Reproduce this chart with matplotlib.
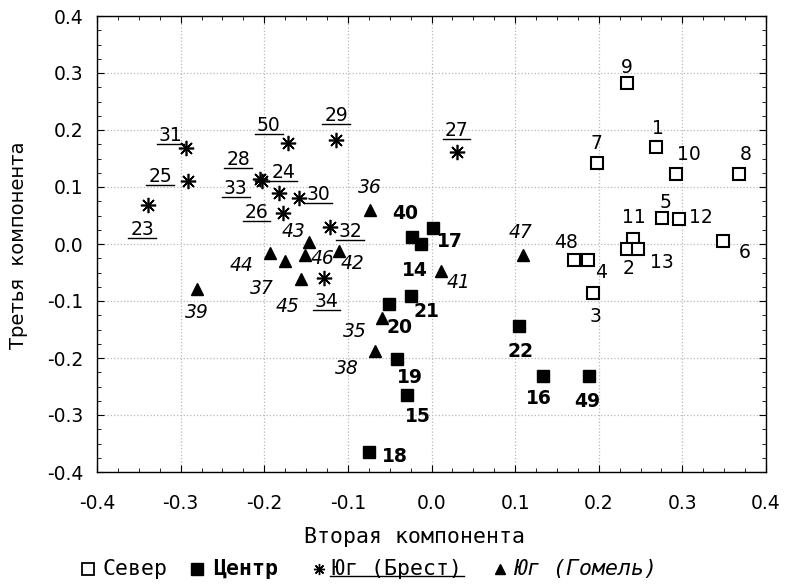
import matplotlib
matplotlib.use("Agg")
import matplotlib.pyplot as plt
from matplotlib.ticker import MultipleLocator, FormatStrFormatter
from matplotlib.lines import Line2D

plt.rcParams['axes.unicode_minus'] = False

# Север (open squares)
north_ids = [9, 1, 7, 10, 8, 5, 12, 11, 2, 13, 6, 48, 4, 3]
north_x = [0.234, 0.268, 0.198, 0.292, 0.368, 0.276, 0.296, 0.241, 0.234, 0.247, 0.349, 0.170, 0.187, 0.193]
north_y = [0.282, 0.170, 0.142, 0.123, 0.123, 0.046, 0.043, 0.009, -0.009, -0.009, 0.005, -0.028, -0.028, -0.086]

# Центр (filled squares)
center_ids = [40, 14, 17, 21, 20, 19, 15, 18, 22, 16, 49]
center_x = [-0.023, -0.013, 0.002, -0.024, -0.051, -0.041, -0.029, -0.075, 0.105, 0.133, 0.188]
center_y = [0.012, 0.000, 0.028, -0.091, -0.106, -0.202, -0.265, -0.365, -0.143, -0.231, -0.231]

# Юг (Брест) (asterisks)
brest_ids = [31, 25, 23, 28, 33, 24, 30, 26, 50, 29, 32, 34, 27]
brest_x = [-0.293, -0.291, -0.339, -0.205, -0.203, -0.182, -0.159, -0.177, -0.172, -0.114, -0.121, -0.128, 0.030]
brest_y = [0.168, 0.111, 0.068, 0.114, 0.110, 0.089, 0.081, 0.054, 0.177, 0.182, 0.030, -0.060, 0.161]

# Юг (Гомель) (triangles)
gomel_ids = [36, 43, 44, 37, 46, 42, 45, 41, 35, 38, 47, 39]
gomel_x = [-0.073, -0.146, -0.193, -0.175, -0.151, -0.111, -0.156, 0.011, -0.059, -0.068, 0.110, -0.281]
gomel_y = [0.060, 0.004, -0.016, -0.030, -0.019, -0.012, -0.061, -0.047, -0.130, -0.188, -0.019, -0.079]

legend_labels = ['Север', 'Центр', 'Юг (Брест)', 'Юг (Гомель)']

# label offsets in pixels (dx, dy)
offsets = {
    9: (0, 16), 1: (2, 19), 7: (-1, 20), 10: (13, 19), 8: (6, 19), 5: (3, 15),
    12: (22, 2), 11: (1, 21), 2: (1, -19), 13: (24, -13), 6: (21, -11),
    48: (-8, 17), 4: (13, -13), 3: (3, -23),
    40: (-7, 24), 14: (-6, -26), 17: (17, -13), 21: (15, -16), 20: (11, -23),
    19: (13, -18), 15: (11, -21), 18: (26, -4), 22: (1, -26), 16: (-4, -23),
    49: (-1, -26),
    31: (-16, 13), 25: (-28, 4), 23: (-6, -24), 28: (-22, 20), 33: (-26, -7),
    24: (4, 21), 30: (20, 3), 26: (-27, 1), 50: (-19, 18), 29: (0, 25),
    32: (20, -5), 34: (2, -23), 27: (0, 22),
    36: (-1, 22), 43: (-16, 10), 44: (-29, -12), 37: (-23, -27), 46: (17, -4),
    42: (14, -13), 45: (-14, -28), 41: (18, -12), 35: (-27, -13), 38: (-28, -17),
    47: (-3, 22), 39: (0, -23),
}

W, H = 786, 584
def fx(px):
    return px / W
def fy(py):
    return 1 - py / H

fig = plt.figure(figsize=(W / 100, H / 100), dpi=100)
ax = fig.add_axes([fx(97), fy(472), (766 - 97) / W, (472 - 16) / H])

ax.plot(north_x, north_y, 's', ms=9, mfc='white', mec='black', mew=1.5, ls='none', zorder=3)
ax.plot(center_x, center_y, 's', ms=9, mfc='black', mec='black', ls='none', zorder=3)
ax.plot(brest_x, brest_y, marker=(8, 2, 0), ms=11, mec='black', mew=1.2, ls='none', zorder=3)
ax.plot(gomel_x, gomel_y, '^', ms=8, mfc='black', mec='black', ls='none', zorder=3)

num_font = 'DejaVu Sans'
mono = 'DejaVu Sans Mono'
brest_texts = []
for ids, xs, ys, style in [(north_ids, north_x, north_y, 'n'),
                           (center_ids, center_x, center_y, 'c'),
                           (brest_ids, brest_x, brest_y, 'b'),
                           (gomel_ids, gomel_x, gomel_y, 'g')]:
    for i, x, y in zip(ids, xs, ys):
        dx, dy = offsets[i]
        t = ax.annotate(str(i), (x, y), xytext=(dx, dy), textcoords='offset pixels',
                        ha='center', va='center', fontsize=13.5, family=num_font,
                        fontweight='bold' if style == 'c' else 'normal',
                        fontstyle='italic' if style == 'g' else 'normal', zorder=4)
        if style == 'b':
            brest_texts.append(t)

ax.set_xlim(-0.4, 0.4)
ax.set_ylim(-0.4, 0.4)
ax.xaxis.set_major_locator(MultipleLocator(0.1))
ax.yaxis.set_major_locator(MultipleLocator(0.1))
ax.xaxis.set_minor_locator(MultipleLocator(0.025))
ax.yaxis.set_minor_locator(MultipleLocator(0.025))
ax.xaxis.set_major_formatter(FormatStrFormatter('%.1f'))
ax.yaxis.set_major_formatter(FormatStrFormatter('%.1f'))
ax.tick_params(which='both', direction='in', top=True, right=True)
ax.tick_params(which='major', length=5, labelsize=13.5)
ax.tick_params(which='minor', length=3)
ax.tick_params(axis='x', which='major', pad=16)
ax.tick_params(axis='y', which='major', pad=10)
for lab in ax.get_xticklabels() + ax.get_yticklabels():
    lab.set_family(num_font)
ax.grid(True, which='major', ls=':', color='#b8b8b8', lw=0.9)
for s in ax.spines.values():
    s.set_linewidth(1.0)

fig.text(fx(414), fy(537), 'Вторая компонента', family=mono, fontsize=15.5,
         ha='center', va='center')
fig.text(fx(19), fy(245), 'Третья  компонента', family=num_font, fontsize=14,
         ha='center', va='center', rotation=90)

# legend drawn by hand
leg_y = fy(569)
leg_items = [
    (88, 102, dict(marker='s', ms=8, mfc='white', mec='black', mew=1.3), {}),
    (197, 213, dict(marker='s', ms=8.5, mfc='black', mec='black'), {'fontweight': 'bold'}),
    (319, 332, dict(marker=(8, 2, 0), ms=8, mec='black', mew=1.0), {}),
    (500, 514, dict(marker='^', ms=7, mfc='black', mec='black'), {'fontstyle': 'italic'}),
]
leg_texts = []
for (mx, tx, mk, fk), lab in zip(leg_items, legend_labels):
    fig.add_artist(Line2D([fx(mx)], [leg_y], ls='none', transform=fig.transFigure, **mk))
    leg_texts.append(fig.text(fx(tx), leg_y, lab, family=mono, fontsize=15.5,
                              ha='left', va='center', **fk))

# underlines
fig.canvas.draw()
r = fig.canvas.get_renderer()
inv = fig.transFigure.inverted()
for t, lift in [(t, 1) for t in brest_texts] + [(leg_texts[2], 3.5)]:
    bb = t.get_window_extent(r)
    (x0, y0), (x1, _) = inv.transform([(bb.x0 - 2, bb.y0 + lift), (bb.x1 + 2, bb.y0 + lift)])
    fig.add_artist(Line2D([x0, x1], [y0, y0], color='black', lw=1.0, transform=fig.transFigure))

fig.savefig('out.png', dpi=100)
